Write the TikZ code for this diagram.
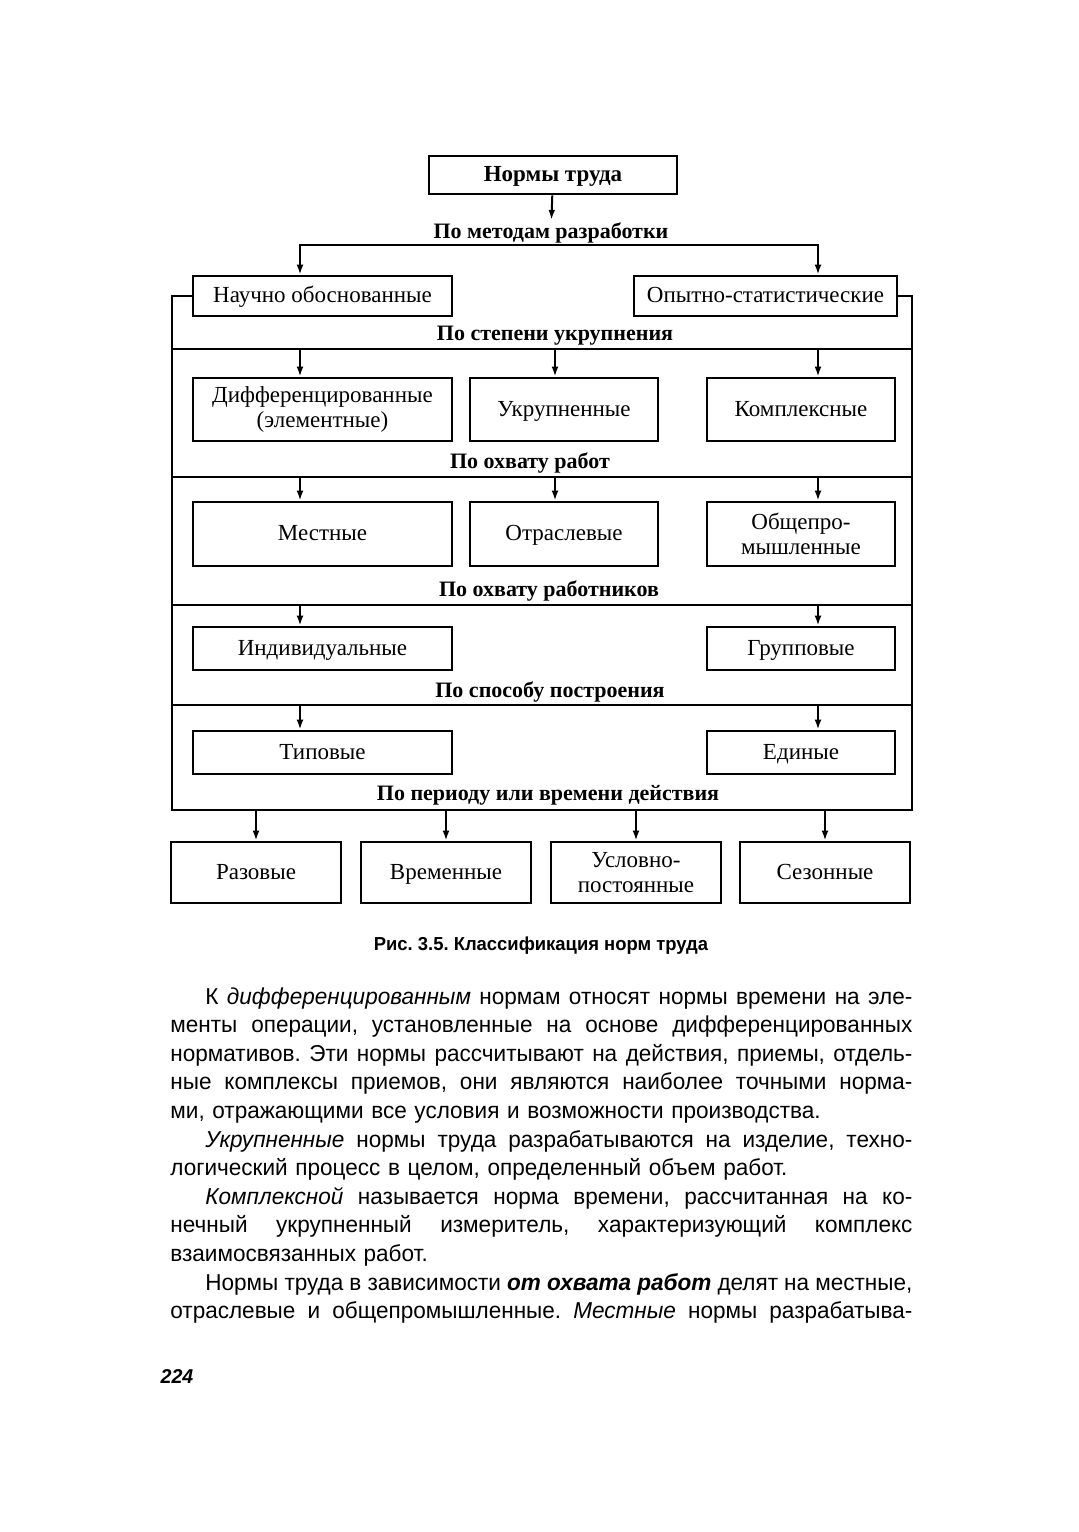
\documentclass[tikz,border=0pt]{standalone}
\usepackage{fontspec}
\setmainfont{Liberation Serif}
\newfontfamily\txtfont[FakeStretch=0.98]{Liberation Sans}
\usetikzlibrary{arrows.meta}
\newcommand\fline[1]{{\spaceskip=0pt\xspaceskip=0pt\makebox[371pt][s]{#1}}}
\newcommand\iline[1]{\hspace*{17.5pt}{\spaceskip=0pt\xspaceskip=0pt\makebox[353.5pt][s]{#1}}}
\frenchspacing

\begin{document}
\begin{tikzpicture}[x=0.5pt, y=-0.5pt,
    box/.style={draw, line width=1.3pt, inner sep=1pt, align=center,
      font=\fontsize{11.5}{12.5}\selectfont},
    sl/.style={text height=8.8pt, text depth=2.2pt},
    wbox/.style={box, minimum width=129.5pt},
    nbox/.style={box, minimum width=94pt},
    bbox/.style={box, minimum width=85pt, minimum height=30.5pt},
    grp/.style={font=\bfseries\fontsize{11}{12}\selectfont, inner sep=1pt},
    ln/.style={line width=1pt},
    arr/.style={-{Latex[length=5pt, width=3.4pt]}, line width=1pt},
  ]
  \useasboundingbox (0,0) rectangle (1078,1532);
  % frame columns and levels
  \coordinate (fl) at (172,0);
  \coordinate (fr) at (912,0);
  \coordinate (cl) at (300,0);
  \coordinate (cm) at (555,0);
  \coordinate (cr) at (818,0);
  \coordinate (v0) at (553,245);
  \coordinate (v1) at (0,349);
  \coordinate (v2) at (0,477);
  \coordinate (v3) at (0,605);
  \coordinate (v4) at (0,705);
  \coordinate (v5) at (0,810);

  % top
  \node[box, sl, minimum width=124pt, minimum height=19pt, font=\bfseries\fontsize{11.5}{12.5}\selectfont]
    (norm) at (553,175) {Нормы труда};
  \node[grp] (met) at (551,232.5) {По методам разработки};
  \node[wbox, sl, minimum height=20pt] (sci) at (322.5,296) {Научно обоснованные};
  \node[box, sl, minimum width=131.5pt, minimum height=20pt] (exp) at (765.5,296) {Опытно-статистические};
  \draw[arr] (norm) -- (met);
  \draw[{Latex[length=5pt, width=3.4pt]}-{Latex[length=5pt, width=3.4pt]}, line width=1pt]
    (cl |- sci.north) |- (v0) -| (cr |- exp.north);

  % outer frame
  \draw[ln] (sci.west) -| (fl |- v5) -- (fr |- v5) |- (exp.east);
  \foreach \v in {v1,v2,v3,v4}
    \draw[ln] (fl |- \v) -- (fr |- \v);

  % rows
  \node[grp] (stp) at (555,335.5) {По степени укрупнения};
  \node[wbox, minimum height=31.5pt] (dif) at (322.5,409.5) {Дифференцированные\\(элементные)};
  \node[nbox, sl, minimum height=31.5pt] (enl) at (564,409.5) {Укрупненные};
  \node[nbox, sl, minimum height=31.5pt] (cmp) at (801,409.5) {Комплексные};

  \node[grp] (ohr) at (530,462.5) {По охвату работ};
  \node[wbox, sl, minimum height=32pt] (loc) at (322.5,534) {Местные};
  \node[nbox, sl, minimum height=32pt] (brn) at (564,534) {Отраслевые};
  \node[nbox, minimum height=32pt] (ind) at (801,534) {Общепро-\\мышленные};

  \node[grp] (ohw) at (549,590.5) {По охвату работников};
  \node[wbox, sl, minimum height=21.5pt] (indv) at (322.5,648.5) {Индивидуальные};
  \node[nbox, sl, minimum height=21.5pt] (grpn) at (801,648.5) {Групповые};

  \node[grp] (spb) at (550,691.5) {По способу построения};
  \node[wbox, sl, minimum height=21.5pt] (typ) at (322.5,752.5) {Типовые};
  \node[nbox, sl, minimum height=21.5pt] (uni) at (801,752.5) {Единые};

  \node[grp] (per) at (548,795.5) {По периоду или времени действия};
  \node[bbox, sl] (one) at (256,872.5) {Разовые};
  \node[bbox, sl] (tmp) at (446,872.5) {Временные};
  \node[bbox] (cnd) at (636,872.5) {Условно-\\постоянные};
  \node[bbox, sl] (ssn) at (825,872.5) {Сезонные};

  \foreach \b/\c in {dif/cl, enl/cm, cmp/cr}
    \draw[arr] (\c |- v1) -- (\c |- \b.north);
  \foreach \b/\c in {loc/cl, brn/cm, ind/cr}
    \draw[arr] (\c |- v2) -- (\c |- \b.north);
  \foreach \b/\c in {indv/cl, grpn/cr}
    \draw[arr] (\c |- v3) -- (\c |- \b.north);
  \foreach \b/\c in {typ/cl, uni/cr}
    \draw[arr] (\c |- v4) -- (\c |- \b.north);
  \foreach \b in {one, tmp, cnd, ssn}
    \draw[arr] (\b.north |- v5) -- (\b.north);

  % caption and page text
  \node[font=\txtfont\bfseries\fontsize{9.4}{11}\selectfont] (cap) at (541,946)
    {Рис. 3.5. Классификация норм труда};
  \node[anchor=north west, inner sep=0pt, text width=371pt, align=left,
    font=\txtfont\fontsize{11.5}{14.3}\selectfont] (txt) at (170,987) {%
    \iline{К \textit{дифференцированным} нормам относят нормы времени на эле-}\\
    \fline{менты операции, установленные на основе дифференцированных}\\
    \fline{нормативов. Эти нормы рассчитывают на действия, приемы, отдель-}\\
    \fline{ные комплексы приемов, они являются наиболее точными норма-}\\
    ми, отражающими все условия и возможности производства.\\
    \iline{\textit{Укрупненные} нормы труда разрабатываются на изделие, техно-}\\
    логический процесс в целом, определенный объем работ.\\
    \iline{\textit{Комплексной} называется норма времени, рассчитанная на ко-}\\
    \fline{нечный укрупненный измеритель, характеризующий комплекс}\\
    взаимосвязанных работ.\\
    \iline{Нормы труда в зависимости \textbf{\textit{от охвата работ}} делят на местные,}\\
    \fline{отраслевые и общепромышленные. \textit{Местные} нормы разрабатыва-}};
  \node[font=\txtfont\bfseries\itshape\fontsize{10}{12}\selectfont] (pg) at (177,1376) {224};
\end{tikzpicture}
\end{document}
